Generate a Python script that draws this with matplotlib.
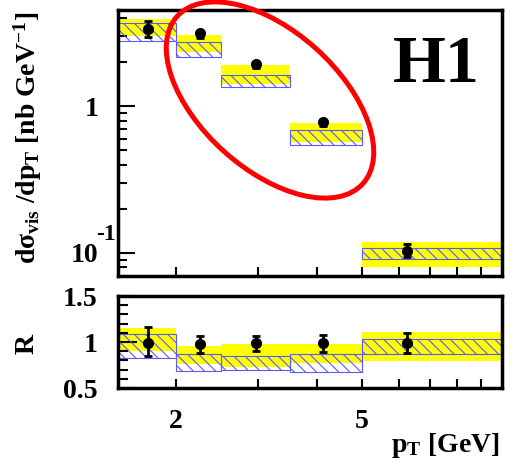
import numpy as np
import matplotlib
matplotlib.use("Agg")
import matplotlib.pyplot as plt
import matplotlib.transforms as mtransforms
from matplotlib.patches import Ellipse
from matplotlib.ticker import LogLocator, NullFormatter, NullLocator, FixedLocator

plt.rcParams['font.family'] = 'Liberation Serif'
plt.rcParams['font.weight'] = 'bold'
plt.rcParams['mathtext.fontset'] = 'custom'
plt.rcParams['mathtext.rm'] = 'Liberation Serif:bold'
plt.rcParams['mathtext.it'] = 'Liberation Serif:bold:italic'
plt.rcParams['mathtext.bf'] = 'Liberation Serif:bold'
plt.rcParams['mathtext.default'] = 'rm'
plt.rcParams['hatch.linewidth'] = 0.8

# pT bins [GeV] and data point positions
pt_edges = [1.5, 2.0, 2.5, 3.5, 5.0, 10.0]
pt_points = [1.74, 2.25, 2.97, 4.13, 6.26]

# visible cross section dsigma/dpT [nb/GeV]
xsec = [3.37, 3.15, 1.94, 0.78, 0.103]
xsec_err_lo = [0.41, 0.20, 0.10, 0.05, 0.010]
xsec_err_hi = [0.47, 0.12, 0.08, 0.03, 0.012]

# prediction 1 (solid band), prediction 2 (hatched band)
pred1_lo = [3.02, 2.35, 1.43, 0.569, 0.0802]
pred1_hi = [3.94, 3.06, 1.91, 0.773, 0.1177]
pred2_lo = [2.80, 2.18, 1.36, 0.541, 0.0906]
pred2_hi = [3.68, 2.76, 1.63, 0.685, 0.1077]

# ratio panel
ratio = [0.99, 0.98, 0.99, 0.99, 0.99]
ratio_err_lo = [0.14, 0.10, 0.09, 0.095, 0.11]
ratio_err_hi = [0.17, 0.09, 0.08, 0.085, 0.11]
ratio1_lo = [0.902, 0.761, 0.728, 0.768, 0.797]
ratio1_hi = [1.155, 0.957, 0.975, 0.978, 1.112]
ratio2_lo = [0.829, 0.688, 0.696, 0.677, 0.870]
ratio2_hi = [1.084, 0.866, 0.848, 0.866, 1.029]

YELLOW = '#ffff00'
BLUE = '#5a5aff'
LABEL_SIZE = 20


def draw_bands(ax, lo1, hi1, lo2, hi2):
    left = np.array(pt_edges[:-1])
    width = np.diff(pt_edges)
    lo1, hi1 = np.array(lo1), np.array(hi1)
    lo2, hi2 = np.array(lo2), np.array(hi2)
    ax.bar(left, hi1 - lo1, width, bottom=lo1, align='edge',
           color=YELLOW, edgecolor='none', zorder=1)
    ax.bar(left, hi2 - lo2, width, bottom=lo2, align='edge',
           facecolor='none', edgecolor=BLUE, hatch='\\\\\\', lw=0.8, zorder=2)


def draw_points(ax, y, elo, ehi):
    ax.errorbar(pt_points, y, yerr=[elo, ehi], fmt='o', color='black',
                ms=7, elinewidth=2, capsize=3, capthick=2, zorder=5)


def style_axes(ax):
    for sp in ax.spines.values():
        sp.set_linewidth(2.5)
    ax.set_xscale('log')
    ax.set_xlim(1.5, 10)
    ax.xaxis.set_major_locator(FixedLocator([2, 3, 4, 5, 6, 7, 8, 9]))
    ax.xaxis.set_minor_locator(NullLocator())
    ax.tick_params(axis='both', which='both', direction='in',
                   top=False, right=False, width=1.5, labelsize=LABEL_SIZE)
    ax.tick_params(axis='x', which='major', length=6.5, pad=15)


fig = plt.figure(figsize=(5.25, 4.65), dpi=100)
ax1 = fig.add_axes([118 / 525, 1 - 276 / 465, 384 / 525, 266 / 465])
ax2 = fig.add_axes([118 / 525, 1 - 388 / 465, 384 / 525, 92 / 465])

# upper panel
draw_bands(ax1, pred1_lo, pred1_hi, pred2_lo, pred2_hi)
draw_points(ax1, xsec, xsec_err_lo, xsec_err_hi)
style_axes(ax1)
ax1.set_yscale('log')
ax1.set_ylim(0.0695, 4.55)
ax1.yaxis.set_major_locator(FixedLocator([0.1, 1]))
ax1.yaxis.set_major_formatter(plt.FixedFormatter(['10', '1']))
ax1.yaxis.set_minor_locator(LogLocator(subs=np.arange(2, 10)))
ax1.yaxis.set_minor_formatter(NullFormatter())
ax1.tick_params(axis='y', which='major', length=12, pad=14)
ax1.tick_params(axis='y', which='minor', length=6.5)
ax1.set_xticklabels([])
trans = mtransforms.blended_transform_factory(ax1.transAxes, ax1.transData)
ax1.text(-0.057, 0.133, '-1', transform=trans, fontsize=17,
         ha='left', va='center')
ax1.text(0.83, 0.73, 'H1', transform=ax1.transAxes, fontsize=49,
         ha='center', va='baseline')

# ratio panel
draw_bands(ax2, ratio1_lo, ratio1_hi, ratio2_lo, ratio2_hi)
draw_points(ax2, ratio, ratio_err_lo, ratio_err_hi)
style_axes(ax2)
ax2.set_ylim(0.5, 1.5)
ax2.set_yticks([0.5, 1.0, 1.5], labels=['0.5', '1', '1.5'])
ax2.set_yticks(np.arange(0.6, 1.45, 0.1), minor=True)
ax2.tick_params(axis='y', which='major', length=14, pad=15)
ax2.tick_params(axis='y', which='minor', length=7)
ax2.set_xticklabels(['2', '', '', '5', '', '', '', ''])

fig.text(28 / 525, 1 - 138 / 465,
         r'd$\sigma_{vis}$ /dp$_{T}$ [nb GeV$^{-1}$]',
         rotation=90, fontsize=20, ha='center', va='center')
fig.text(27 / 525, 1 - 344 / 465, 'R', rotation=90, fontsize=20,
         ha='center', va='center')
fig.text(500 / 525, 1 - 452 / 465, r'p$_{T}$ [GeV]', fontsize=20,
         ha='right', va='baseline')

# highlight of the central pT region
fig.add_artist(Ellipse((2.70, 3.65), 2.50, 1.38, angle=-42,
                       transform=fig.dpi_scale_trans, fill=False,
                       edgecolor='red', lw=3.6, zorder=10))

fig.savefig('out.png', dpi=100)
